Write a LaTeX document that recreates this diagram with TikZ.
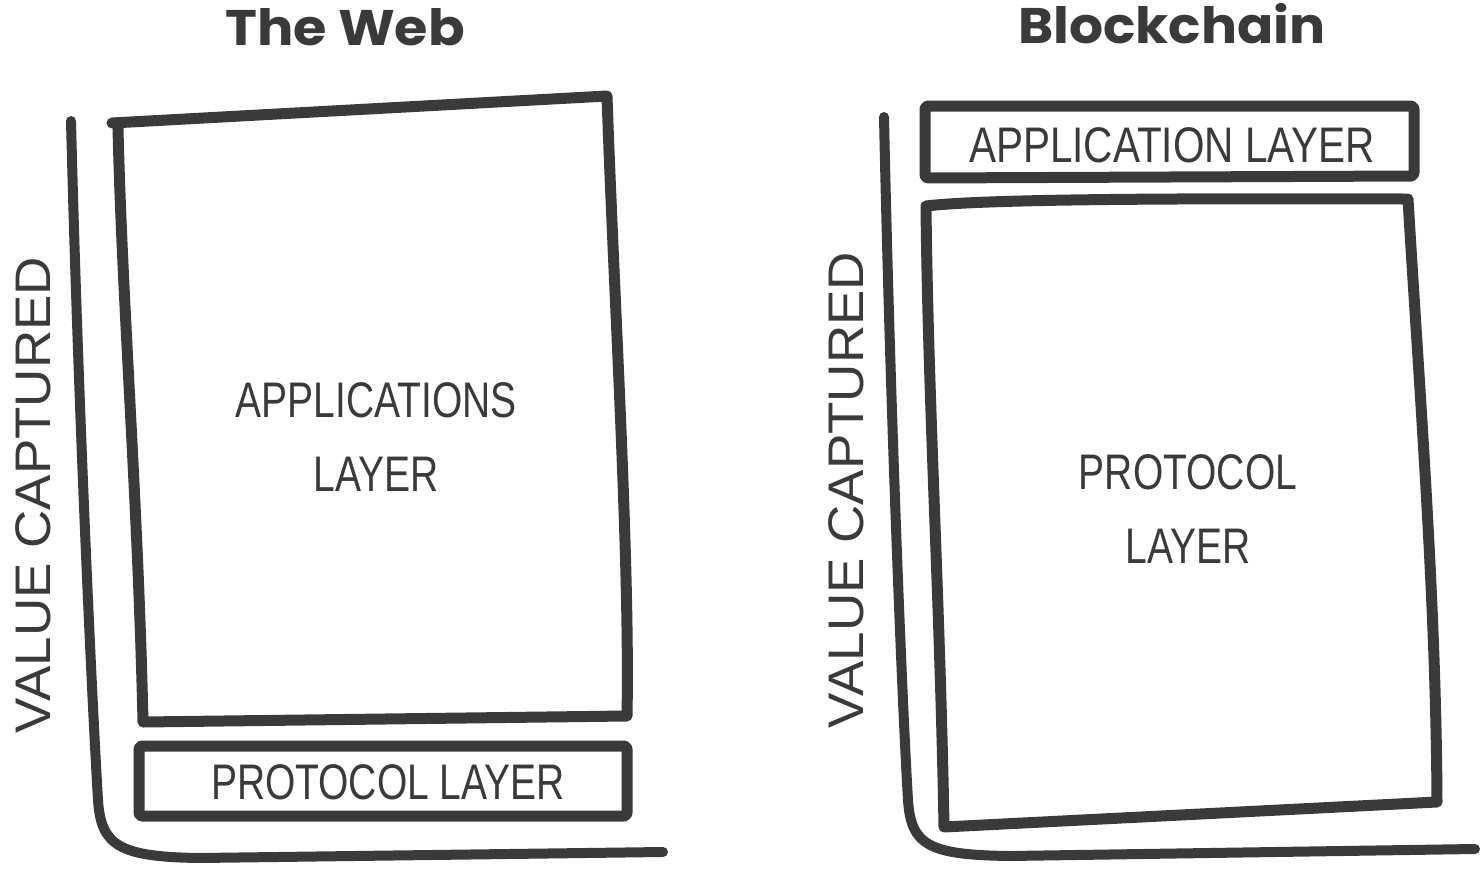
\documentclass[tikz,border=0pt]{standalone}
\usepackage{fontspec}
\setmainfont{Liberation Sans}
\newfontfamily\titlefont{Poppins}
\newfontfamily\handfont{Liberation Sans}
\definecolor{ink}{HTML}{3A3A3A}
\begin{document}
\begin{tikzpicture}[x=1pt,y=-1pt,
  stroke/.style={draw=ink,line width=11pt,line cap=round,line join=round},
  axisline/.style={draw=ink,line width=10pt,line cap=round,line join=round},
  hand/.style={text=ink,font=\handfont\fontsize{50}{60}\selectfont,inner sep=0pt,align=center},
  title/.style={text=ink,font=\titlefont\bfseries\fontsize{50}{54}\selectfont,inner sep=0pt}]
\useasboundingbox (0,0) rectangle (1484,870);
% ---------- The Web ----------
\node[title] (t1) at (345,27) {\scalebox{1.08}[1]{The Web}};
% axis
\coordinate (a1top) at (71,121);
\coordinate (a1end) at (663,852);
\draw[axisline] (a1top) .. controls (78,400) and (92,700) .. (98,800)
   .. controls (101,845) and (118,857) .. (200,858) -- (a1end);
% applications box
\coordinate (w1) at (112,123);
\coordinate (w2) at (607,96);
\coordinate (w3) at (627,716);
\coordinate (w4) at (143,722);
\draw[stroke] (w1) -- (w2) .. controls (614,300) and (630,560) .. (w3) -- (w4) .. controls (138,500) and (122,300) .. (118,128);
\node[hand] (apps) at (376,437) {\scalebox{0.78}[1]{APPLICATIONS}\\[14pt]\scalebox{0.78}[1]{LAYER}};
% protocol box
\coordinate (p1) at (139,746);
\coordinate (p2) at (627,746);
\coordinate (p3) at (627,816);
\coordinate (p4) at (139,816);
\draw[stroke,rounded corners=3pt] (p1) -- (p2) -- (p3) -- (p4) -- cycle;
\node[hand] (proto) at (388,782) {\scalebox{0.78}[1]{PROTOCOL LAYER}};
\node[hand,rotate=90] (v1) at (33,495) {\scalebox{1.06}[1]{VALUE CAPTURED}};
% ---------- Blockchain ----------
\node[title] (t2) at (1172,24) {\scalebox{1.07}[1]{Blockchain}};
\coordinate (a2top) at (884,117);
\coordinate (a2end) at (1475,849);
\draw[axisline] (a2top) .. controls (890,400) and (902,700) .. (908,800)
   .. controls (911,845) and (928,855) .. (1010,856) -- (a2end);
% application box
\coordinate (b1) at (925,106);
\coordinate (b2) at (1414,106);
\coordinate (b3) at (1414,176);
\coordinate (b4) at (925,178);
\draw[stroke,rounded corners=3pt] (b1) -- (b2) -- (b3) -- (b4) -- cycle;
\node[hand] (app2) at (1172,145) {\scalebox{0.81}[1]{APPLICATION LAYER}};
% protocol box
\coordinate (q1) at (926,206);
\coordinate (q2) at (1408,199);
\coordinate (q3) at (1437,802);
\coordinate (q4) at (944,827);
\draw[stroke] (q1) .. controls (1000,197) and (1300,199) .. (q2) .. controls (1420,400) and (1436,600) .. (q3) -- (q4)
   .. controls (940,600) and (928,400) .. (q1) -- cycle;
\node[hand] (proto2) at (1188,509) {\scalebox{0.78}[1]{PROTOCOL}\\[14pt]\scalebox{0.78}[1]{LAYER}};
\node[hand,rotate=90] (v2) at (846,490) {\scalebox{1.06}[1]{VALUE CAPTURED}};
\end{tikzpicture}
\end{document}
